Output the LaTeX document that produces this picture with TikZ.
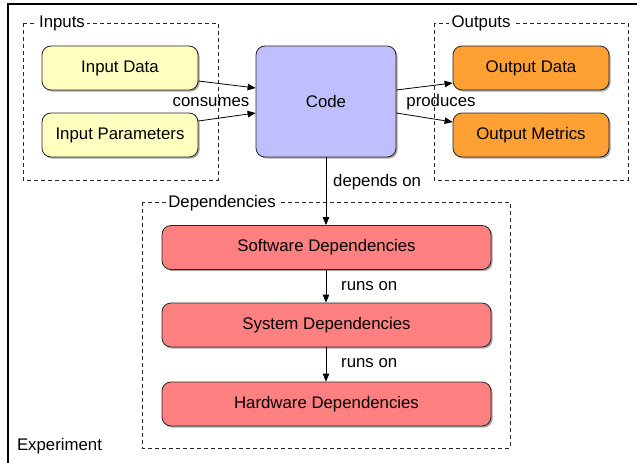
\documentclass[tikz,border=0pt]{standalone}
\usepackage{fontspec}
\setmainfont{Liberation Sans}
\usetikzlibrary{arrows.meta,shadows}

\definecolor{inputfill}{RGB}{255,255,192}
\definecolor{codefill}{RGB}{191,191,255}
\definecolor{outputfill}{RGB}{255,160,52}
\definecolor{depfill}{RGB}{255,128,128}
\definecolor{groupline}{RGB}{40,40,40}

\tikzset{
  box/.style={draw=black!85, line width=0.8pt, rounded corners=9pt,
    align=center, inner sep=0pt,
    drop shadow={shadow xshift=1.6pt, shadow yshift=-1.6pt, opacity=0.35, fill=black}},
  inbox/.style={box, fill=inputfill, minimum width=156pt, minimum height=44pt},
  outbox/.style={box, fill=outputfill, minimum width=156pt, minimum height=44pt},
  depbox/.style={box, fill=depfill, minimum width=329pt, minimum height=44pt},
  codebox/.style={box, fill=codefill, minimum width=140pt, minimum height=111pt},
  group/.style={draw=groupline, line width=0.7pt, dash pattern=on 4pt off 3pt},
  grouplabel/.style={fill=white, inner sep=2.5pt},
  link/.style={draw=black, line width=0.8pt, -{Triangle[length=8pt,width=6.5pt]}},
  linklabel/.style={inner sep=1pt}
}

\begin{document}
\begin{tikzpicture}[x=1pt, y=-1pt, font=\fontsize{16.8}{20}\selectfont]
\useasboundingbox (0,0) rectangle (637,463);

% outer experiment frame (continues past the right and bottom edges)
\draw[line width=2pt] (8,470) -- (8,3.5) -- (645,3.5);
\node[linklabel] (experiment) at (59.5,446) {Experiment};

% group frames
\draw[group] (23,23) rectangle (218,180);
\node[grouplabel] (inputs) at (62,23) {Inputs};
\draw[group] (434,23) rectangle (628,180);
\node[grouplabel] (outputs) at (481,23) {Outputs};
\draw[group] (142,202) rectangle (510,448);
\node[grouplabel] (deps) at (222,203) {Dependencies};

% boxes
\node[inbox] (indata) at (120,68) {Input Data};
\node[inbox] (inparams) at (120,135) {Input Parameters};
\node[codebox] (code) at (326,101.5) {Code};
\node[outbox] (outdata) at (531,68) {Output Data};
\node[outbox] (outmetrics) at (531,135) {Output Metrics};
\node[depbox] (sw) at (326.5,247.5) {Software Dependencies};
\node[depbox] (sys) at (326.5,325) {System Dependencies};
\node[depbox] (hw) at (326.5,404) {Hardware Dependencies};

% connectors
\draw[link] ([yshift=-13pt]indata.east) -- ([yshift=13.5pt]code.west);
\draw[link] ([yshift=14pt]inparams.east) -- ([yshift=-11.5pt]code.west);
\node[linklabel] (consumes) at (211,102) {consumes};

\draw[link] ([yshift=11.5pt]code.east) -- ([yshift=-15pt]outdata.west);
\draw[link] ([yshift=-11.5pt]code.east) -- ([yshift=13pt]outmetrics.west);
\node[linklabel] (produces) at (441,102) {produces};

\draw[link] (code.south) -- (code.south |- sw.north);
\node[linklabel, anchor=west] (dependson) at (332,182) {depends on};
\draw[link] (sw.south -| code.south) -- (code.south |- sys.north);
\node[linklabel, anchor=west] (runs1) at (340,286) {runs on};
\draw[link] (sys.south -| code.south) -- (code.south |- hw.north);
\node[linklabel, anchor=west] (runs2) at (340,363.5) {runs on};
\end{tikzpicture}
\end{document}
